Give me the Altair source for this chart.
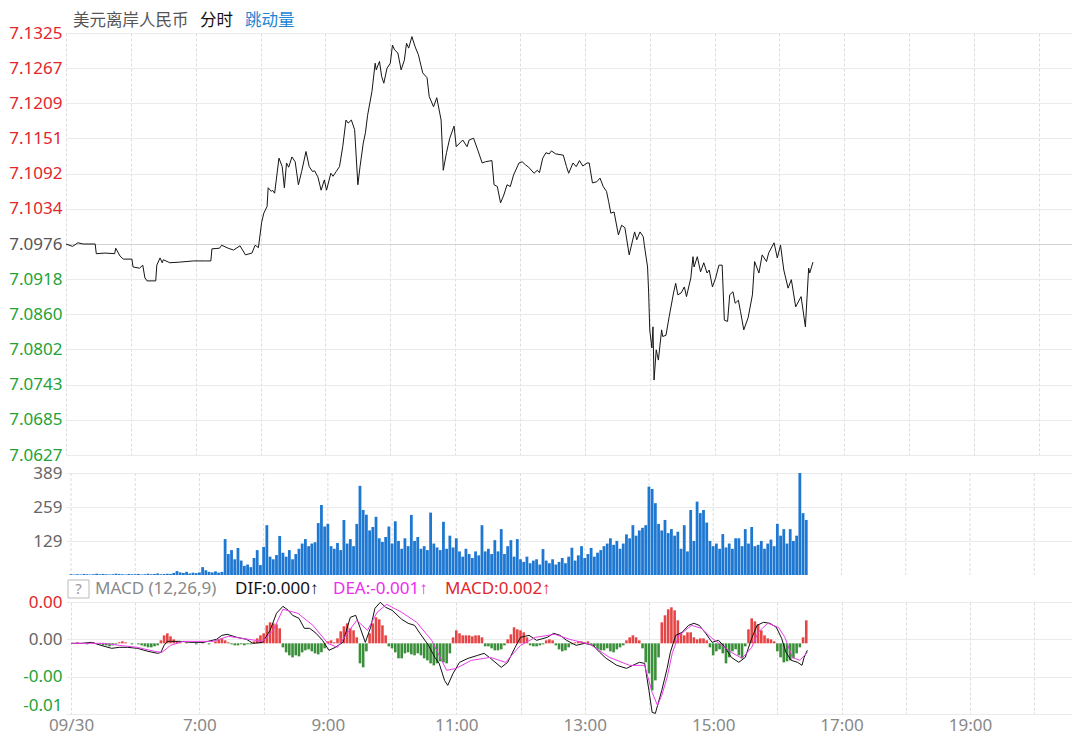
import altair as alt
import pandas as pd

# ---------------- data ----------------
price_time = ["05:00","05:06","05:11","05:16","05:27","05:28","05:36","05:45","05:46","05:50","05:53","06:01","06:02","06:08","06:11","06:13","06:15","06:23","06:24","06:27","06:29","06:30","06:36","06:45","06:58","07:09","07:14","07:15","07:22","07:24","07:30","07:35","07:41","07:46","07:52","07:55","07:58","08:01","08:03","08:06","08:07","08:10","08:11","08:13","08:17","08:20","08:22","08:24","08:26","08:29","08:32","08:35","08:38","08:42","08:45","08:48","08:50","08:53","08:56","08:59","09:01","09:05","09:07","09:10","09:13","09:16","09:19","09:21","09:24","09:27","09:30","09:32","09:35","09:37","09:39","09:43","09:46","09:47","09:50","09:52","09:54","09:57","10:00","10:02","10:04","10:07","10:10","10:13","10:15","10:17","10:20","10:23","10:26","10:30","10:34","10:36","10:40","10:43","10:47","10:49","10:52","10:55","10:59","11:01","11:07","11:11","11:13","11:17","11:21","11:25","11:28","11:34","11:36","11:39","11:42","11:45","11:48","11:51","11:54","11:59","12:02","12:05","12:08","12:13","12:16","12:18","12:21","12:24","12:27","12:29","12:33","12:40","12:43","12:45","12:49","12:52","12:55","12:58","13:02","13:04","13:07","13:11","13:14","13:17","13:20","13:22","13:24","13:27","13:31","13:34","13:37","13:41","13:46","13:48","13:51","13:54","13:55","13:58","13:59","14:00","14:02","14:03","14:04","14:06","14:08","14:11","14:12","14:15","14:18","14:22","14:24","14:26","14:29","14:32","14:34","14:38","14:40","14:41","14:44","14:47","14:50","14:53","14:55","14:58","15:01","15:04","15:07","15:09","15:12","15:14","15:17","15:19","15:22","15:24","15:27","15:31","15:35","15:37","15:41","15:44","15:48","15:50","15:55","15:58","16:01","16:04","16:08","16:11","16:15","16:20","16:24","16:27","16:28","16:31"]
price_value = [7.0976,7.0972,7.0978,7.0976,7.0976,7.0960,7.0961,7.0960,7.0969,7.0956,7.0951,7.0951,7.0938,7.0936,7.0941,7.0920,7.0915,7.0915,7.0941,7.0953,7.0945,7.0950,7.0945,7.0946,7.0948,7.0948,7.0948,7.0968,7.0969,7.0974,7.0969,7.0966,7.0973,7.0958,7.0961,7.0974,7.0970,7.1012,7.1027,7.1038,7.1069,7.1063,7.1065,7.1060,7.1118,7.1104,7.1069,7.1110,7.1103,7.1120,7.1112,7.1074,7.1096,7.1129,7.1104,7.1096,7.1097,7.1087,7.1065,7.1082,7.1065,7.1093,7.1088,7.1096,7.1104,7.1137,7.1181,7.1176,7.1181,7.1165,7.1074,7.1104,7.1143,7.1160,7.1189,7.1228,7.1275,7.1264,7.1278,7.1253,7.1242,7.1267,7.1275,7.1305,7.1297,7.1292,7.1264,7.1280,7.1308,7.1300,7.1319,7.1302,7.1289,7.1259,7.1251,7.1220,7.1203,7.1218,7.1181,7.1098,7.1127,7.1151,7.1171,7.1137,7.1148,7.1137,7.1148,7.1151,7.1131,7.1110,7.1112,7.1114,7.1074,7.1071,7.1044,7.1057,7.1074,7.1071,7.1090,7.1110,7.1112,7.1107,7.1103,7.1093,7.1098,7.1094,7.1118,7.1127,7.1125,7.1130,7.1125,7.1123,7.1104,7.1093,7.1110,7.1104,7.1114,7.1105,7.1110,7.1110,7.1077,7.1079,7.1085,7.1071,7.1063,7.1046,7.1027,7.1029,7.0991,7.1007,7.1003,7.0958,7.0996,7.0983,7.0996,7.0988,7.0974,7.0938,7.0895,7.0834,7.0804,7.0839,7.0751,7.0801,7.0784,7.0834,7.0823,7.0825,7.0856,7.0895,7.0911,7.0892,7.0895,7.0905,7.0889,7.0920,7.0955,7.0938,7.0955,7.0930,7.0945,7.0928,7.0933,7.0905,7.0920,7.0941,7.0941,7.0850,7.0848,7.0892,7.0897,7.0878,7.0883,7.0864,7.0834,7.0854,7.0892,7.0947,7.0928,7.0958,7.0947,7.0961,7.0978,7.0953,7.0974,7.0933,7.0903,7.0917,7.0872,7.0889,7.0839,7.0936,7.0928,7.0946]

price_ticks = [7.1325,7.1267,7.1209,7.1151,7.1092,7.1034,7.0976,7.0918,7.0860,7.0802,7.0743,7.0685,7.0627]
prev_close = 7.0976

# tick volume, one bar per 3 minutes starting 05:00
bar_start = "05:00"
bar_step_min = 3
volume = [3,2,3,2,4,3,2,3,5,3,
          4,3,2,3,5,4,3,2,4,3,
          3,4,2,3,5,3,4,6,3,4,
          5,4,8,15,10,8,12,6,9,7,
          10,30,18,12,10,14,9,12,137,80,
          95,60,103,55,35,40,30,65,95,38,
          107,190,70,60,76,149,85,70,95,60,
          80,100,120,137,110,120,125,198,267,185,
          195,110,100,122,95,210,120,137,110,195,
          340,248,230,170,183,222,140,126,145,185,
          120,205,130,100,140,110,229,130,145,100,
          110,95,238,120,105,95,203,100,150,105,
          140,90,70,100,80,65,90,75,190,90,
          100,80,133,90,175,80,110,133,70,137,
          60,50,70,45,55,60,40,99,55,45,
          60,40,50,65,45,70,104,55,75,110,
          65,80,103,70,85,95,110,120,140,115,
          130,100,120,155,140,190,150,170,180,190,
          337,328,274,195,170,210,160,175,150,165,
          100,190,90,248,130,280,236,248,200,130,
          110,120,100,156,105,120,100,140,140,110,
          175,120,183,110,115,130,100,120,135,110,
          195,150,175,120,175,130,150,389,236,210]
volume_ticks = [129, 259, 389]

# MACD histogram, same 3-minute bins (units of 1e-4)
macd_hist_e4 = [0,0,1,0,0,-1,0,1,0,-1,
                -2,-2,-3,-2,-1,1,2,1,0,-1,
                0,-1,-2,-3,-4,-4,-3,-2,3,8,
                10,7,4,2,1,0,1,0,0,-1,
                0,1,0,-1,0,2,4,5,3,1,
                -1,-2,-2,-1,-2,-1,-1,2,5,8,
                10,18,21,20,19,15,-4,-9,-12,-14,
                -12,-13,-9,-7,-6,-8,-10,-11,-9,-5,
                2,3,1,5,12,17,20,15,13,6,
                -20,-24,-8,10,20,26,24,18,8,-3,
                -5,-9,-15,-15,-10,-9,-11,-12,-10,-12,
                -15,-17,-20,-22,-20,-18,-19,-20,-10,6,
                13,10,8,8,8,7,8,8,6,-3,
                -3,-5,-7,-7,-6,-2,4,9,16,14,
                13,11,6,-2,-3,-3,-2,-1,3,4,
                3,-2,-6,-8,-7,-4,-1,1,2,2,
                1,2,-1,-3,-6,-7,-7,-5,-8,-9,
                -6,-4,-2,3,6,8,6,3,-5,-19,
                -30,-47,-37,-14,21,28,34,36,33,23,
                10,8,11,11,6,4,5,5,3,-4,
                -12,-8,-6,-10,-20,-14,-8,-6,-12,-15,
                -3,14,25,22,19,13,8,5,4,2,
                -8,-14,-19,-18,-17,-15,-10,-4,6,23]

dif_time = ["05:00","05:10","05:19","05:28","05:38","05:45","05:53","06:02","06:12","06:21","06:24","06:27","06:30","06:33","06:42","06:52","07:04","07:16","07:21","07:26","07:35","07:44","07:50","07:59","08:06","08:12","08:18","08:23","08:27","08:33","08:38","08:43","08:49","08:55","09:01","09:07","09:14","09:21","09:26","09:30","09:35","09:40","09:44","09:49","09:54","10:00","10:09","10:15","10:21","10:26","10:34","10:40","10:44","10:49","10:52","10:57","11:03","11:11","11:20","11:26","11:32","11:42","11:48","11:55","12:00","12:08","12:15","12:25","12:31","12:37","12:43","12:52","13:00","13:08","13:14","13:20","13:30","13:39","13:45","13:51","13:56","14:00","14:03","14:06","14:12","14:17","14:20","14:25","14:31","14:37","14:42","14:47","14:53","14:59","15:05","15:11","15:17","15:24","15:30","15:36","15:41","15:47","15:53","15:59","16:04","16:08","16:13","16:19","16:23","16:25","16:28"]
dif_e4 = [0,0,1,-2,-5,-4,-4,-5,-8,-10,-9,-2,2,2,2,1,1,4,8,9,6,4,0,1,13,30,37,33,28,25,15,15,10,3,-7,-4,1,26,28,16,1,16,35,41,36,33,24,20,18,10,-2,-14,-20,-37,-42,-30,-19,-15,-12,-10,-15,-24,-19,-4,6,8,3,6,10,8,3,-2,0,-2,-9,-15,-22,-25,-22,-19,-20,-47,-69,-70,-47,-25,-9,8,11,18,20,18,10,1,3,-4,-14,-19,-14,5,18,21,20,16,5,-9,-17,-19,-22,-14,-7]

dea_time = ["05:00","05:31","05:45","06:02","06:18","06:25","06:33","06:45","07:13","07:27","07:46","07:59","08:09","08:18","08:32","08:46","09:00","09:09","09:18","09:27","09:37","09:46","09:55","10:09","10:23","10:37","10:51","11:00","11:14","11:32","11:46","12:00","12:14","12:32","12:46","13:05","13:23","13:42","13:56","14:03","14:08","14:12","14:17","14:22","14:28","14:40","14:49","14:59","15:17","15:27","15:36","15:42","15:51","16:01","16:07","16:14","16:21","16:28"]
dea_e4 = [0,0,-2,-4,-8,-9,-2,2,2,7,4,2,13,34,30,18,0,-4,10,23,13,31,39,31,21,3,-27,-25,-17,-14,-19,-2,6,9,4,-1,-14,-22,-22,-49,-62,-52,-34,-9,8,18,15,5,-9,-15,-4,11,20,16,6,-14,-17,-9]

macd_ticks = [0.00413, 0.00040, -0.00333, -0.00706]
hour_marks = list(range(5, 21))

# ---------------- helpers ----------------
def hours(s):
    h, m = s.split(":")
    return int(h) + int(m) / 60.0

bh = hours(bar_start)
bar_t = [bh + bar_step_min * i / 60.0 for i in range(len(volume))]

price_df = pd.DataFrame({"t": [hours(s) for s in price_time], "p": price_value})
vol_df = pd.DataFrame({"t": bar_t, "v": volume})
hist_df = pd.DataFrame({"t": bar_t[:len(macd_hist_e4)], "h": [v * 1e-4 for v in macd_hist_e4]})
dif_df = pd.DataFrame({"t": [hours(s) for s in dif_time], "v": [v * 1e-4 for v in dif_e4]})
dea_df = pd.DataFrame({"t": [hours(s) for s in dea_time], "v": [v * 1e-4 for v in dea_e4]})
grid_df = pd.DataFrame({"t": hour_marks})

RED = "#e2262c"
GREEN = "#24a236"
GREY = "#666666"
NUM_FONT = "Noto Sans"
CJK_FONT = "Noto Sans CJK SC"
W = 1006
x_scale = alt.Scale(domain=[5, 5 + W / 64.86], nice=False, zero=False)
VGRID = "#dcdcdc"
HGRID = "#ebebeb"


def note(text, x, y, color, size=16.5, font=CJK_FONT, align="left"):
    return alt.Chart(pd.DataFrame({"s": [text]})).mark_text(
        align=align, baseline="middle", font=font, fontSize=size, color=color
    ).encode(x=alt.value(x), y=alt.value(y), text="s:N")


# ---------------- price panel ----------------
price_line = alt.Chart(price_df).mark_line(color="#151515", strokeWidth=1).encode(
    x=alt.X("t:Q", scale=x_scale,
            axis=alt.Axis(values=hour_marks, labels=False, ticks=False, domain=False,
                          grid=True, gridColor=VGRID, gridDash=[3, 2], title=None)),
    y=alt.Y("p:Q", scale=alt.Scale(domain=[price_ticks[-1], price_ticks[0]], nice=False, zero=False),
            axis=alt.Axis(values=price_ticks, format=".4f", title=None, ticks=False, domain=False,
                          labelFont=NUM_FONT, labelFontSize=17, labelPadding=4, labelFlush=False,
                          labelOverlap=False,
                          labelColor={"condition": [
                              {"test": f"datum.value > {prev_close + 0.00005}", "value": RED},
                              {"test": f"datum.value < {prev_close - 0.00005}", "value": GREEN}],
                              "value": "#555555"},
                          grid=True,
                          gridColor={"condition": {"test": f"abs(datum.value - {prev_close}) < 0.00005",
                                                   "value": "#d2d2d2"}, "value": HGRID})),
)
price_panel = alt.layer(
    price_line,
    note("美元离岸人民币", 7, -12, "#555555"),
    note("分时", 134, -12, "#111111"),
    note("跳动量", 179, -12, "#2185d5"),
).properties(width=W, height=422)

# ---------------- volume panel ----------------
vol_grid = alt.Chart(grid_df).mark_rule(color=VGRID, strokeDash=[3, 2], strokeWidth=1).encode(
    x=alt.X("t:Q", scale=x_scale, axis=None),
    y=alt.datum(389), y2=alt.datum(0),
)
vol_bars = alt.Chart(vol_df).mark_bar(color="#1e78d2", width=2.8).encode(
    x=alt.X("t:Q", scale=x_scale, axis=None),
    y=alt.Y("v:Q", scale=alt.Scale(domain=[-34.3, 389], nice=False, zero=False),
            axis=alt.Axis(values=volume_ticks, title=None, ticks=False, domain=False,
                          labelFont=NUM_FONT, labelFontSize=17, labelPadding=4, labelFlush=False,
                          labelOverlap=False, labelColor=GREY, grid=True, gridColor=HGRID)),
    y2=alt.datum(0),
)
vol_panel = alt.layer(vol_grid, vol_bars).properties(width=W, height=111)

# ---------------- MACD panel ----------------
macd_y = alt.Scale(domain=[macd_ticks[-1], macd_ticks[0]], nice=False, zero=False)
macd_x_axis = alt.Axis(values=hour_marks, title=None, ticks=False, domain=False,
                       labelExpr="datum.value == 5 ? '09/30' : (datum.value % 2 == 1 ? datum.value + ':00' : '')",
                       labelFont=NUM_FONT, labelFontSize=17, labelColor="#888888",
                       labelPadding=3, labelFlush=False, labelOverlap=False,
                       grid=True, gridColor=VGRID, gridDash=[3, 2])
macd_y_axis = alt.Axis(values=macd_ticks, title=None, ticks=False, domain=False,
                       labelExpr="datum.value > 0.003 ? '0.00' : datum.value > 0 ? '0.00' : datum.value > -0.005 ? '-0.00' : '-0.01'",
                       labelFont=NUM_FONT, labelFontSize=17, labelPadding=4, labelFlush=False,
                       labelOverlap=False,
                       labelColor={"condition": [
                           {"test": "datum.value > 0.003", "value": RED},
                           {"test": "datum.value > 0", "value": GREY}],
                           "value": GREEN},
                       labelBaseline={"condition": {"test": "datum.value < -0.007", "value": "bottom"},
                                      "value": "middle"},
                       grid=True, gridColor=HGRID)

hist = alt.Chart(hist_df).mark_bar(width=2.6).encode(
    x=alt.X("t:Q", scale=x_scale, axis=macd_x_axis),
    y=alt.Y("h:Q", scale=macd_y, axis=macd_y_axis),
    y2=alt.datum(0),
    color=alt.condition("datum.h > 0", alt.value("#e64545"), alt.value("#3b8f3b")),
)
dif_line = alt.Chart(dif_df).mark_line(color="#111111", strokeWidth=1).encode(
    x=alt.X("t:Q", scale=x_scale, axis=macd_x_axis), y=alt.Y("v:Q", scale=macd_y, axis=macd_y_axis))
dea_line = alt.Chart(dea_df).mark_line(color="#ea3cea", strokeWidth=1).encode(
    x=alt.X("t:Q", scale=x_scale, axis=macd_x_axis), y=alt.Y("v:Q", scale=macd_y, axis=macd_y_axis))

qbox = alt.Chart(pd.DataFrame({"s": ["?"]})).mark_rect(fill="#ffffff", stroke="#bbbbbb", strokeWidth=1).encode(
    x=alt.value(2), x2=alt.value(23), y=alt.value(-22), y2=alt.value(-4))

macd_panel = alt.layer(
    hist, dif_line, dea_line, qbox,
    note("?", 12.5, -13, "#999999", size=15, font=NUM_FONT, align="center"),
    note("MACD (12,26,9)", 29, -13, "#8a8a8a", size=17, font=NUM_FONT),
    note("DIF:0.000↑", 169, -13, "#111111", size=17, font=NUM_FONT),
    note("DEA:-0.001↑", 267, -13, "#ee2cee", size=17, font=NUM_FONT),
    note("MACD:0.002↑", 379, -13, RED, size=17, font=NUM_FONT),
).properties(width=W, height=112)

chart = alt.vconcat(price_panel, vol_panel, macd_panel, spacing=18, bounds="flush").properties(
    padding={"left": 0, "top": 5, "right": 0, "bottom": 6}, background="#ffffff"
).configure_view(stroke=None)

chart.save("out.html", embed_options={"renderer": "svg", "actions": False})
